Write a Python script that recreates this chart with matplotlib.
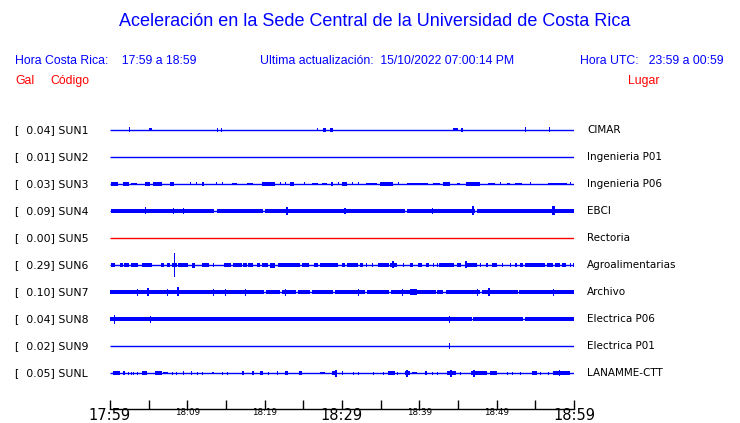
import numpy as np
import matplotlib
matplotlib.use('Agg')
import matplotlib.pyplot as plt

W, H = 740, 423

# estaciones (codigo, pico en gal, lugar)
codigos = ['SUN1', 'SUN2', 'SUN3', 'SUN4', 'SUN5', 'SUN6', 'SUN7', 'SUN8', 'SUN9', 'SUNL']
picos = [0.04, 0.01, 0.03, 0.09, 0.00, 0.29, 0.10, 0.04, 0.02, 0.05]
lugares = ['CIMAR', 'Ingenieria P01', 'Ingenieria P06', 'EBCI', 'Rectoria',
           'Agroalimentarias', 'Archivo', 'Electrica P06', 'Electrica P01', 'LANAMME-CTT']
colores = ['blue', 'blue', 'blue', 'blue', 'red', 'blue', 'blue', 'blue', 'blue', 'blue']

# eje de tiempo (minutos desde 17:59)
ticks_min = list(range(0, 61, 5))
tick_labels = ['17:59', '', '18:09', '', '18:19', '', '18:29', '', '18:39', '', '18:49', '', '18:59']
tick_sizes = [10.5, 0, 6.3, 0, 6.3, 0, 10.5, 0, 6.3, 0, 6.3, 0, 10.5]

# rafagas: (inicio min, fin min, media amplitud en px)
sun1 = [(2.5, 2.6, 2.5), (5.1, 5.4, 1.5), (13.9, 14.0, 2), (14.3, 14.4, 2), (26.8, 26.9, 1.5),
        (27.6, 27.9, 2), (28.5, 28.8, 2), (44.4, 45.0, 1.5), (45.4, 45.7, 2), (53.7, 53.8, 2.5),
        (56.8, 56.9, 2.5)]
sun2 = []
sun3 = [(0.1, 1.0, 1.6), (1.7, 2.5, 1.6), (2.7, 3.5, 1.2), (4.5, 5.2, 1.6), (5.6, 6.7, 1.6),
        (7.8, 8.3, 1.6), (10.3, 10.4, 1.5), (11.1, 11.2, 1.5), (11.9, 12.2, 1.6), (13.7, 13.8, 1.5),
        (14.5, 14.6, 1.5), (15.8, 16.4, 1.2), (17.7, 18.5, 1.2), (19.7, 21.3, 1.6), (22.0, 22.1, 1.5),
        (22.6, 22.7, 1.5), (23.3, 23.8, 1.6), (25.1, 25.2, 1.5), (26.1, 26.9, 1.2), (27.4, 28.1, 1.2),
        (28.6, 28.8, 1.6), (29.5, 29.6, 1.5), (30.0, 30.6, 1.6), (31.3, 31.4, 1.5), (32.1, 32.2, 1.5),
        (33.1, 34.5, 1.2), (34.9, 36.6, 1.6), (37.2, 37.3, 1.5), (38.4, 41.1, 1.2), (41.8, 42.7, 1.2),
        (43.1, 44.0, 1.6), (44.9, 45.3, 1.2), (46.0, 47.8, 1.6), (48.9, 49.8, 1.2), (50.4, 50.5, 1.5),
        (51.3, 51.7, 1.2), (52.4, 53.3, 1.2), (54.3, 54.4, 1.5), (56.6, 59.1, 1.2), (59.5, 59.6, 1.5)]
sun4 = [(0.1, 13.5, 2), (13.8, 19.8, 2), (20.1, 38.2, 2), (38.4, 47.2, 2), (47.4, 60.0, 2),
        (4.5, 4.7, 3.5), (8.1, 8.2, 3), (9.4, 9.5, 3), (22.7, 23.0, 4), (30.3, 30.5, 3),
        (41.6, 41.8, 3), (46.8, 47.1, 4.5), (57.2, 57.5, 4.5)]
sun5 = []
sun6 = [(0.1, 0.7, 1.6), (1.3, 1.7, 1.6), (1.8, 2.5, 1.6), (2.7, 3.6, 1.6), (4.1, 5.4, 1.6),
        (6.6, 7.0, 1.6), (7.4, 7.8, 1.6), (8.0, 8.7, 2), (8.25, 8.35, 11.5), (8.8, 10.1, 1.6),
        (10.6, 11.0, 2.5), (11.9, 12.8, 1.6), (13.3, 13.4, 1.6), (14.7, 15.6, 1.6), (15.9, 17.1, 1.6),
        (17.2, 17.7, 1.6), (17.8, 18.5, 1.6), (19.0, 19.4, 1.6), (19.7, 20.4, 2), (20.7, 21.3, 2.5),
        (21.7, 24.6, 1.6), (24.8, 25.7, 1.6), (26.4, 26.9, 1.6), (27.2, 29.5, 1.6), (30.0, 30.4, 1.6),
        (30.6, 32.1, 1.6), (32.3, 32.7, 1.6), (33.1, 33.2, 1.6), (33.9, 34.0, 1.6), (34.7, 36.1, 1.6),
        (36.2, 37.1, 1.6), (36.5, 36.7, 3.5), (37.9, 38.0, 1.6), (38.8, 39.2, 1.6), (39.8, 40.3, 1.6),
        (40.9, 41.3, 1.6), (41.8, 41.9, 1.6), (42.3, 42.4, 1.6), (42.5, 44.5, 1.6), (44.9, 45.4, 1.6),
        (45.9, 47.5, 1.6), (45.9, 46.1, 3.5), (47.8, 47.9, 1.6), (48.6, 48.9, 1.6), (49.4, 50.0, 1.6),
        (50.7, 50.8, 1.6), (51.7, 51.8, 1.6), (52.4, 52.6, 1.6), (53.0, 53.4, 1.6), (53.7, 56.3, 1.6),
        (56.5, 57.3, 1.6), (57.5, 58.2, 1.6), (58.5, 59.0, 1.6), (59.5, 59.6, 1.6), (59.9, 60.0, 1.6)]
sun7 = [(0.0, 19.9, 2), (20.2, 22.0, 2), (22.2, 24.0, 2), (24.3, 25.8, 2), (26.1, 28.8, 2),
        (29.1, 33.0, 2), (33.2, 36.1, 2), (36.3, 42.1, 2), (42.3, 43.1, 2), (43.4, 47.9, 2),
        (48.1, 52.7, 2), (52.9, 60.0, 2), (3.5, 3.6, 3.5), (4.8, 5.1, 4), (7.4, 7.5, 3.5),
        (8.7, 8.9, 4.5), (13.3, 13.4, 3.5), (14.9, 15.0, 3.5), (17.5, 17.6, 3.5), (22.6, 22.7, 3.5),
        (32.1, 32.2, 3.5), (37.8, 37.9, 3.5), (38.8, 39.7, 2.8), (47.5, 47.6, 3.5), (48.9, 49.1, 4),
        (57.3, 57.4, 3.5)]
sun8 = [(0.0, 46.85, 2.4), (47.0, 53.45, 2.4), (53.6, 60.0, 2.4), (0.55, 0.65, 4.5), (5.2, 5.3, 3.5),
        (43.8, 43.9, 3.5)]
sun9 = [(43.8, 43.9, 3)]
sunl = [(0.4, 1.3, 1.6), (1.7, 1.9, 1.6), (2.3, 2.4, 1.5), (2.7, 2.8, 1.5), (3.0, 3.1, 1.5),
        (3.5, 3.6, 1.5), (4.1, 4.8, 1.6), (5.8, 6.7, 1.6), (6.9, 7.5, 1.2), (8.0, 8.1, 1.5),
        (8.5, 8.6, 1.5), (9.4, 9.5, 1.6), (10.5, 10.6, 1.6), (11.2, 11.3, 1.5), (11.9, 12.0, 1.5),
        (13.2, 13.5, 1.2), (14.5, 14.6, 1.5), (15.1, 15.2, 1.5), (17.1, 17.3, 1.6), (18.4, 18.6, 1.6),
        (19.4, 19.8, 1.6), (20.4, 20.5, 1.5), (21.6, 21.7, 1.6), (22.6, 23.0, 1.6), (24.4, 24.8, 1.6),
        (27.2, 27.8, 1.2), (28.7, 29.4, 1.6), (29.1, 29.3, 3.5), (30.0, 30.1, 1.6), (31.4, 31.5, 1.5),
        (32.1, 32.2, 1.5), (34.0, 34.1, 1.5), (35.3, 35.4, 1.5), (35.9, 36.9, 1.6), (37.1, 37.2, 1.5),
        (38.1, 38.8, 1.6), (38.3, 38.5, 3.5), (39.1, 39.7, 1.2), (40.7, 41.0, 1.6), (41.6, 41.7, 1.5),
        (42.3, 42.4, 1.5), (43.6, 44.7, 2), (44.0, 44.2, 3.5), (45.3, 45.4, 1.5), (46.7, 48.8, 2),
        (47.0, 47.2, 3.5), (49.1, 50.0, 1.6), (51.3, 51.4, 1.5), (52.0, 52.1, 1.5), (53.0, 53.1, 1.5),
        (54.6, 55.2, 1.6), (55.6, 55.7, 1.5), (56.6, 56.7, 1.5), (57.3, 59.5, 1.6), (58.0, 58.2, 3)]
rafagas = [sun1, sun2, sun3, sun4, sun5, sun6, sun7, sun8, sun9, sunl]


def fx(px):
    return px / W


def fy(py):
    return 1 - py / H


fig = plt.figure(figsize=(W / 100, H / 100), dpi=100)

azul = '#0000FF'
rojo = '#FF0000'
hfont = 'Liberation Sans'

fig.text(fx(375), fy(22), 'Aceleración en la Sede Central de la Universidad de Costa Rica',
         color=azul, fontsize=13, family=hfont, ha='center', va='center')
fig.text(fx(15), fy(61), 'Hora Costa Rica:    17:59 a 18:59', color=azul, fontsize=8.8,
         family=hfont, va='center')
fig.text(fx(260), fy(61), 'Ultima actualización:  15/10/2022 07:00:14 PM', color=azul,
         fontsize=8.8, family=hfont, va='center')
fig.text(fx(580), fy(61), 'Hora UTC:   23:59 a 00:59', color=azul, fontsize=8.8,
         family=hfont, va='center')
fig.text(fx(15), fy(81), 'Gal', color=rojo, fontsize=8.8, family=hfont, va='center')
fig.text(fx(50), fy(81), 'Código', color=rojo, fontsize=8.8, family=hfont, va='center')
fig.text(fx(628), fy(81), 'Lugar', color=rojo, fontsize=8.8, family=hfont, va='center')

# eje de las trazas
y_top, y_bot = 116, 409
ax = fig.add_axes([fx(110), fy(y_bot), (574 - 110) / W, (y_bot - y_top) / H])
ax.set_xlim(0, 60)
row_px = 27
ax.set_ylim((y_bot - 130) / row_px, (y_top - 130) / row_px)
for s in ['top', 'left', 'right']:
    ax.spines[s].set_visible(False)
ax.spines['bottom'].set_linewidth(1.0)
ax.set_yticks([])
ax.set_xticks(ticks_min)
ax.set_xticklabels(tick_labels)
ax.tick_params(axis='x', direction='in', length=6.5, width=1.0, pad=-0.5)
for lab, sz in zip(ax.get_xticklabels(), tick_sizes):
    if sz:
        lab.set_fontsize(sz)

for i in range(len(codigos)):
    c = azul if colores[i] == 'blue' else rojo
    ax.plot([0, 60], [i, i], color=c, lw=1.0, solid_capstyle='butt')
    if rafagas[i]:
        r = np.array(rafagas[i], dtype=float)
        ancho = np.maximum(r[:, 1] - r[:, 0], 0.13)
        amp = r[:, 2] / row_px
        ax.bar(r[:, 0], 2 * amp, width=ancho, bottom=i - amp, align='edge',
               color=c, linewidth=0)
    yp = 130 + row_px * i
    fig.text(fx(15), fy(yp), '[  %.2f] %s' % (picos[i], codigos[i]), fontsize=7.8,
             va='center', color='black')
    fig.text(fx(587), fy(yp), lugares[i], fontsize=7.5, va='center', color='black')

fig.savefig('out.png', dpi=100)
